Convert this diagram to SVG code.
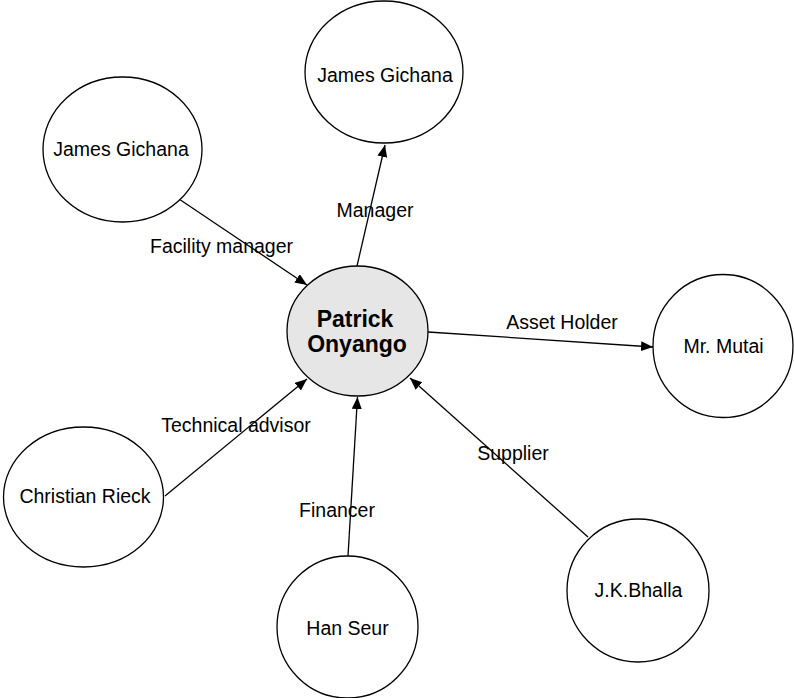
<svg xmlns="http://www.w3.org/2000/svg" width="794" height="698" viewBox="0 0 794 698">
  <style>
    .node { fill: #ffffff; stroke: #000000; stroke-width: 1.3; }
    .hub { fill: #e6e6e6; stroke: #000000; stroke-width: 1.3; }
    .name { font-family: "Liberation Sans", Arial, sans-serif; font-size: 19.5px; fill: #000000; text-anchor: middle; }
    .hubname { font-family: "Liberation Sans", Arial, sans-serif; font-size: 23px; font-weight: bold; fill: #000000; text-anchor: middle; }
    .link { stroke: #000000; stroke-width: 1.3; fill: none; marker-end: url(#arrow); }
    .label { font-family: "Liberation Sans", Arial, sans-serif; font-size: 19.5px; fill: #000000; text-anchor: middle; }
  </style>
  <defs>
    <marker id="arrow" markerUnits="userSpaceOnUse" markerWidth="13" markerHeight="11" refX="12" refY="5" orient="auto">
      <path d="M0,0 L12,5 L0,10 z" fill="#000000"/>
    </marker>
  </defs>
  <rect width="794" height="698" fill="#ffffff"/>

  <g id="connectors">
    <line class="link" x1="179" y1="199" x2="307" y2="285"/>
    <line class="link" x1="357" y1="266" x2="385" y2="145"/>
    <line class="link" x1="428" y1="332" x2="653" y2="347"/>
    <line class="link" x1="165" y1="496" x2="307" y2="379"/>
    <line class="link" x1="348" y1="556" x2="357.5" y2="397"/>
    <line class="link" x1="588" y1="537" x2="410" y2="378"/>
    <text class="label" x="221.5" y="253">Facility manager</text>
    <text class="label" x="375" y="217">Manager</text>
    <text class="label" x="562" y="329">Asset Holder</text>
    <text class="label" x="236" y="432">Technical advisor</text>
    <text class="label" x="337" y="517">Financer</text>
    <text class="label" x="513" y="460">Supplier</text>
  </g>

  <g id="patrick-onyango">
    <ellipse class="hub" cx="357.5" cy="331" rx="70.5" ry="65"/>
    <text class="hubname" x="355" y="327">Patrick</text>
    <text class="hubname" x="357" y="352">Onyango</text>
  </g>

  <g id="james-gichana-top">
    <ellipse class="node" cx="384" cy="72" rx="79" ry="71"/>
    <text class="name" x="385" y="82">James Gichana</text>
  </g>

  <g id="james-gichana-left">
    <ellipse class="node" cx="122.5" cy="149.5" rx="79.5" ry="72.5"/>
    <text class="name" x="121" y="156">James Gichana</text>
  </g>

  <g id="mr-mutai">
    <ellipse class="node" cx="723" cy="346" rx="70" ry="71.5"/>
    <text class="name" x="723.5" y="353">Mr. Mutai</text>
  </g>

  <g id="christian-rieck">
    <ellipse class="node" cx="83.5" cy="497" rx="80" ry="70"/>
    <text class="name" x="85" y="503">Christian Rieck</text>
  </g>

  <g id="han-seur">
    <ellipse class="node" cx="347.5" cy="627" rx="70.5" ry="71"/>
    <text class="name" x="347.5" y="635">Han Seur</text>
  </g>

  <g id="jk-bhalla">
    <ellipse class="node" cx="638" cy="590.5" rx="71" ry="71.5"/>
    <text class="name" x="638.5" y="597">J.K.Bhalla</text>
  </g>
</svg>
